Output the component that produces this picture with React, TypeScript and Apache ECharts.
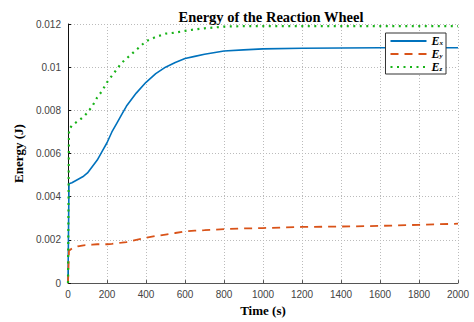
import React, { useEffect, useRef } from "react";
import * as echarts from "echarts";

const times = [0, 5, 20, 50, 80, 100, 125, 150, 175, 200, 225, 250, 275, 300, 350, 400, 450, 500, 550, 600, 650, 700, 800, 900, 1000, 1200, 1400, 1600, 1800, 2000];
const ex = [0, 0.0046, 0.00465, 0.0048, 0.00495, 0.0051, 0.0054, 0.0057, 0.0061, 0.0065, 0.007, 0.0074, 0.0078, 0.0082, 0.0088, 0.0093, 0.0097, 0.01, 0.01022, 0.0104, 0.0105, 0.0106, 0.01075, 0.0108, 0.01085, 0.01088, 0.01089, 0.0109, 0.0109, 0.0109];
const ey = [0, 0.0015, 0.0016, 0.0017, 0.00175, 0.00176, 0.00178, 0.0018, 0.0018, 0.0018, 0.00182, 0.00185, 0.00187, 0.0019, 0.002, 0.0021, 0.00218, 0.00225, 0.00232, 0.0024, 0.00243, 0.00245, 0.0025, 0.00253, 0.00255, 0.0026, 0.00262, 0.00265, 0.0027, 0.00275];
const ez = [0, 0.0071, 0.0073, 0.0075, 0.0077, 0.0079, 0.0082, 0.0086, 0.0089, 0.0093, 0.0096, 0.0099, 0.0102, 0.0104, 0.0108, 0.0112, 0.0114, 0.01155, 0.0116, 0.01168, 0.01175, 0.0118, 0.01188, 0.0119, 0.0119, 0.0119, 0.0119, 0.0119, 0.0119, 0.0119];
const seriesNames = ["Ex", "Ey", "Ez"];
const subs = ["x", "y", "z"];
const xTicks = [0, 200, 400, 600, 800, 1000, 1200, 1400, 1600, 1800, 2000];
const yTicks = [0, 0.002, 0.004, 0.006, 0.008, 0.01, 0.012];

const serif = "'Liberation Serif', 'DejaVu Serif', serif";
const sans = "'Liberation Sans', Arial, sans-serif";

export default function App() {
  const ref = useRef<HTMLDivElement>(null);
  useEffect(() => {
    const chart = echarts.init(ref.current!, null, { renderer: "svg" });
    const pair = (ys: number[]) => times.map((t, i) => [t, ys[i]]);
    chart.setOption({
      animation: false,
      backgroundColor: "#ffffff",
      title: {
        text: "Energy of the Reaction Wheel",
        left: 266,
        top: 4,
        textAlign: "center",
        textStyle: { fontFamily: serif, fontWeight: "bold", fontSize: 14.5, color: "#000" },
      },
      grid: { left: 68, right: 16, top: 24, bottom: 35, show: false },
      legend: {
        right: 28,
        top: 33,
        orient: "vertical",
        backgroundColor: "#fff",
        borderColor: "#333",
        borderWidth: 1,
        borderRadius: 0,
        padding: [2, 3, 1, 4],
        itemGap: 1,
        itemWidth: 36,
        itemHeight: 10,
        itemStyle: { opacity: 0 },
        data: seriesNames,
        formatter: (name: string) => `{e|E}{s|${subs[seriesNames.indexOf(name)]}}`,
        textStyle: {
          rich: {
            e: { fontFamily: serif, fontWeight: "bold", fontStyle: "italic", fontSize: 12, color: "#000" },
            s: { fontFamily: serif, fontWeight: "bold", fontStyle: "italic", fontSize: 7, color: "#000", padding: [4, 0, 0, 0] },
          },
        },
      },
      xAxis: {
        type: "value",
        min: 0,
        max: 2000,
        interval: 200,
        name: "Time (s)",
        nameLocation: "middle",
        nameGap: 18,
        nameTextStyle: { fontFamily: serif, fontWeight: "bold", fontSize: 13, color: "#000" },
        axisLine: { show: true, lineStyle: { color: "#555", width: 1 } },
        axisTick: { show: true, inside: true, length: 3, lineStyle: { color: "#555" } },
        axisLabel: {
          fontFamily: sans,
          fontSize: 10,
          color: "#444",
          margin: 6,
          formatter: (v: number) => {
            const found = xTicks.find((t) => Math.abs(t - v) < 1e-6);
            return found === undefined ? "" : String(found);
          },
        },
        splitLine: { show: true, lineStyle: { color: "#bbb", type: [1, 2], width: 1 } },
      },
      yAxis: {
        type: "value",
        min: 0,
        max: 0.012,
        interval: 0.002,
        name: "Energy (J)",
        nameLocation: "middle",
        nameGap: 40,
        nameTextStyle: { fontFamily: serif, fontWeight: "bold", fontSize: 13, color: "#000" },
        axisLine: { show: true, lineStyle: { color: "#111", width: 1 } },
        axisTick: { show: true, inside: true, length: 3, lineStyle: { color: "#111" } },
        axisLabel: {
          fontFamily: sans,
          fontSize: 10,
          color: "#444",
          margin: 7,
          formatter: (v: number) => {
            const found = yTicks.find((t) => Math.abs(t - v) < 1e-9);
            return found === undefined ? "" : String(Number(found.toFixed(4)));
          },
        },
        splitLine: { show: true, lineStyle: { color: "#bbb", type: [1, 2], width: 1 } },
      },
      series: [
        {
          name: "Ex",
          type: "line",
          data: pair(ex),
          symbol: "none",
          lineStyle: { color: "#0072BD", width: 1.6 },
          itemStyle: { color: "#0072BD" },
        },
        {
          name: "Ey",
          type: "line",
          data: pair(ey),
          symbol: "none",
          lineStyle: { color: "#D95319", width: 1.8, type: [8, 6] },
          itemStyle: { color: "#D95319" },
        },
        {
          name: "Ez",
          type: "line",
          data: pair(ez),
          symbol: "none",
          lineStyle: { color: "#19b319", width: 2.2, type: [2, 4.5] },
          itemStyle: { color: "#19b319" },
        },
      ],
    });
    return () => chart.dispose();
  }, []);
  return <div ref={ref} style={{ width: 474, height: 322, position: "absolute", left: 0, top: 0 }} />;
}
